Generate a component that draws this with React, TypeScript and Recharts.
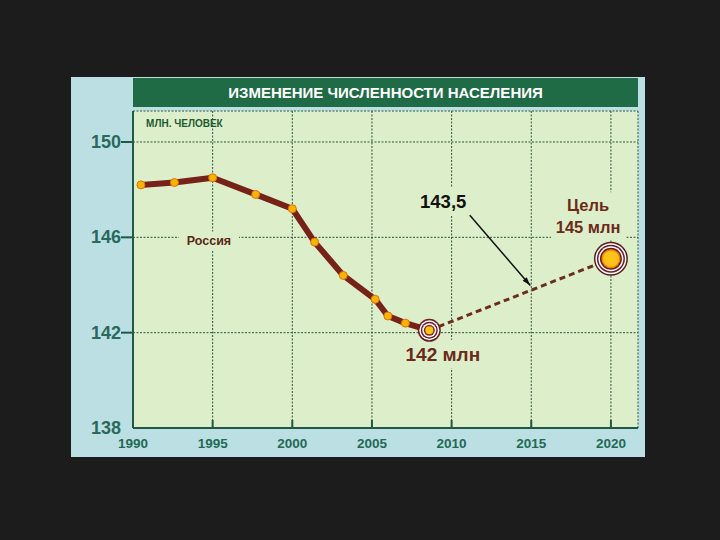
import { CartesianGrid, Line, LineChart, ReferenceDot, ReferenceLine, XAxis, YAxis } from 'recharts'

// Russia population, mln people
const years = [1990.5, 1992.6, 1995, 1997.7, 2000, 2001.4, 2003.2, 2005.2, 2006, 2007.1, 2008.6]
const russia = [148.2, 148.3, 148.5, 147.8, 147.2, 145.8, 144.4, 143.4, 142.7, 142.4, 142.1]
const forecastYears = [2008.6, 2020]
const forecast = [142.1, 145.1]
const xTicks = [1990, 1995, 2000, 2005, 2010, 2015, 2020]
const yTicks = [138, 142, 146, 150]

const historyData = years.map((year, i) => ({ year, value: russia[i] }))
const forecastData = forecastYears.map((year, i) => ({ year, value: forecast[i] }))

const FONT = '"Liberation Sans", Arial, sans-serif'
const BROWN = '#772219'
const PLOT_BG = '#ddefca'

function Bullseye({ cx, cy, big }: { cx: number; cy: number; big?: boolean }) {
  const rings = big
    ? [[17, '#5a1a1c'], [15.5, '#fff'], [14, '#6e1c24'], [12.5, '#fff'], [11, '#6e1c24'], [9.5, '#ef8a00'], [8, '#ffc21a']]
    : [[11.5, '#6e1c24'], [10, '#fff'], [8.5, '#6e1c24'], [7, '#fff'], [5.5, '#8a2a1e'], [4, '#ffc21a']]
  return (
    <g>
      {rings.map(([r, fill], i) => <circle key={i} cx={cx} cy={cy} r={r as number} fill={fill as string} />)}
    </g>
  )
}

function historyDot(props: any) {
  const { cx, cy, index } = props
  if (index === years.length - 1) return <Bullseye key={`h${index}`} cx={cx} cy={cy} />
  return <circle key={`h${index}`} cx={cx} cy={cy} r={4} fill="#f7b500" stroke="#e07010" strokeWidth={1} />
}

function forecastDot(props: any) {
  const { cx, cy, index } = props
  if (index === forecastYears.length - 1) return <Bullseye key={`f${index}`} cx={cx} cy={cy} big />
  return <g key={`f${index}`} />
}

function note(lines: string[], opts: { size: number; color: string; anchor?: 'start' | 'middle'; bg?: number; gap?: number }) {
  const { size, color, anchor = 'middle', bg, gap = size * 1.35 } = opts
  return {
    content: (p: any) => {
      const { x, y } = p.viewBox
      const top = y - ((lines.length - 1) * gap) / 2
      return (
        <g>
          {bg ? <rect x={anchor === 'middle' ? x - bg / 2 : x - 4} y={top - size * 0.75} width={bg} height={(lines.length - 1) * gap + size * 1.5} fill={PLOT_BG} /> : null}
          {lines.map((line, i) => (
            <text key={line} x={x} y={top + i * gap} textAnchor={anchor} dominantBaseline="central" fill={color} fontFamily={FONT} fontWeight="bold" fontSize={size}>
              {line}
            </text>
          ))}
        </g>
      )
    }
  }
}

function Arrow(props: any) {
  const { x1, y1, x2, y2 } = props
  const ang = Math.atan2(y2 - y1, x2 - x1)
  const len = 9
  const p1 = [x2 - len * Math.cos(ang - 0.3), y2 - len * Math.sin(ang - 0.3)]
  const p2 = [x2 - len * Math.cos(ang + 0.3), y2 - len * Math.sin(ang + 0.3)]
  return (
    <g>
      <line x1={x1} y1={y1} x2={x2} y2={y2} stroke="#111" strokeWidth={1.5} />
      <polygon points={`${x2},${y2} ${p1[0]},${p1[1]} ${p2[0]},${p2[1]}`} fill="#111" />
    </g>
  )
}

function YTick({ x, y, payload }: any) {
  return (
    <g>
      {payload.value !== 138 && <line x1={x - 12} x2={x} y1={y} y2={y} stroke="#1f5a45" strokeWidth={2} />}
      <text x={x - 12} y={y} textAnchor="end" dominantBaseline="central" fill="#2a6a5c" fontFamily={FONT} fontWeight="bold" fontSize={18}>
        {payload.value}
      </text>
    </g>
  )
}

function XTick({ x, y, payload }: any) {
  return (
    <g>
      {payload.value !== 1990 && <line x1={x} x2={x} y1={y - 8} y2={y} stroke="#1f5a45" strokeWidth={2} />}
      <text x={x} y={y + 15} textAnchor="middle" dominantBaseline="central" fill="#1f6a55" fontFamily={FONT} fontWeight="bold" fontSize={13.5}>
        {payload.value}
      </text>
    </g>
  )
}

export default function App() {
  return (
    <div style={{ position: 'absolute', left: 0, top: 0, width: 720, height: 540, background: '#1c1c1c', fontFamily: FONT }}>
      <div style={{ position: 'absolute', left: 71, top: 77, width: 574, height: 380, background: '#bcdfe4' }} />
      <div
        style={{
          position: 'absolute', left: 133, top: 78, width: 505, height: 29, background: '#1f6b46',
          color: '#fff', fontWeight: 'bold', fontSize: 15, lineHeight: '29px', textAlign: 'center'
        }}
      >
        ИЗМЕНЕНИЕ ЧИСЛЕННОСТИ НАСЕЛЕНИЯ
      </div>
      <div style={{ position: 'absolute', left: 0, top: 0 }}>
        <LineChart width={720} height={540} margin={{ top: 111, right: 82, bottom: 82, left: 73 }}>
          <CartesianGrid fill={PLOT_BG} stroke="#2f5439" strokeDasharray="2 1.5" strokeWidth={1} />
          <XAxis
            dataKey="year" type="number" domain={[1990, 2021.7]} ticks={xTicks} allowDataOverflow
            height={30} tickSize={0} tickMargin={0} tickLine={false} tick={<XTick />}
            axisLine={{ stroke: '#1f5a45', strokeWidth: 2 }}
          />
          <YAxis
            dataKey="value" type="number" domain={[138, 151.3]} ticks={yTicks} allowDataOverflow
            width={60} tickSize={0} tickMargin={0} tickLine={false} tick={<YTick />}
            axisLine={{ stroke: '#1f5a45', strokeWidth: 2 }}
          />
          <ReferenceDot x={1990.82} y={150.76} r={0} fill="none" stroke="none" label={note(['МЛН. ЧЕЛОВЕК'], { size: 10, color: '#1e5a30', anchor: 'start' })} />
          <ReferenceDot x={1994.77} y={145.85} r={0} fill="none" stroke="none" label={note(['Россия'], { size: 12.5, color: '#5a2716', bg: 60 })} />
          <ReferenceDot x={2009.47} y={147.5} r={0} fill="none" stroke="none" label={note(['143,5'], { size: 18.5, color: '#111', bg: 54 })} />
          <ReferenceDot x={2018.57} y={146.9} r={0} fill="none" stroke="none" label={note(['Цель', '145 млн'], { size: 16.5, color: '#6b2a1a', bg: 74, gap: 22.5 })} />
          <ReferenceDot x={2009.45} y={141.1} r={0} fill="none" stroke="none" label={note(['142 млн'], { size: 19, color: '#6b2a1a', bg: 78 })} />
          <ReferenceLine segment={[{ x: 2011.02, y: 147.02 }, { x: 2014.94, y: 143.98 }]} shape={<Arrow />} />
          <Line
            data={forecastData} dataKey="value" type="linear" stroke="#6b2e1e" strokeWidth={3}
            strokeDasharray="6 4" dot={forecastDot} isAnimationActive={false}
          />
          <Line
            data={historyData} dataKey="value" type="linear" stroke={BROWN} strokeWidth={6}
            strokeLinejoin="round" dot={historyDot} isAnimationActive={false}
          />
        </LineChart>
      </div>
    </div>
  )
}
